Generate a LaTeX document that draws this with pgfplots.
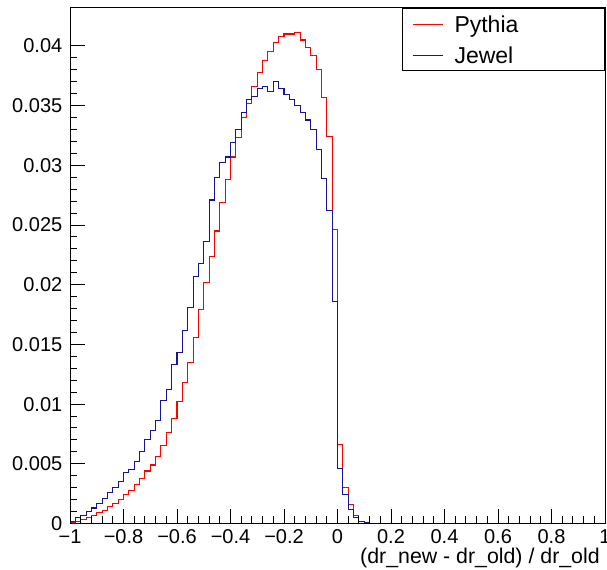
\documentclass[border=0pt]{standalone}
\usepackage{fontspec}
\setmainfont{Liberation Sans}
\usepackage{pgfplots}
\pgfplotsset{compat=1.18}
\usetikzlibrary{calc}
\definecolor{pythiared}{RGB}{255,0,0}
\definecolor{jewelblue}{RGB}{20,20,160}
\begin{document}
\begin{tikzpicture}
\begin{axis}[
  scale only axis,
  width=401.25pt, height=386.625pt,
  xmin=-1, xmax=1, ymin=0, ymax=0.04318,
  axis on top,
  tick pos=left, tick align=inside,
  xtick={-1,-0.8,-0.6,-0.4,-0.2,0,0.2,0.4,0.6,0.8,1},
  xticklabels={−1,−0.8,−0.6,−0.4,−0.2,0,0.2,0.4,0.6,0.8,1},
  ytick={0,0.005,0.01,0.015,0.02,0.025,0.03,0.035,0.04},
  yticklabels={0,0.005,0.01,0.015,0.02,0.025,0.03,0.035,0.04},
  minor x tick num=4, minor y tick num=4,
  major tick length=11.25pt, minor tick length=5.6pt,
  every tick/.style={black, line width=0.75pt},
  axis line style={line width=0.75pt},
  tick label style={font=\fontsize{15}{18}\selectfont},
  xticklabel style={anchor=north, inner sep=0pt, yshift=-4.5pt},
  yticklabel style={anchor=east, inner sep=0pt, xshift=-5.6pt},
  xlabel={(dr\_new - dr\_old) / dr\_old},
  xlabel style={at={(rel axis cs:1,0)}, anchor=north east, inner sep=0pt, xshift=-3.75pt, yshift=-18.5pt, font=\fontsize{16}{19}\selectfont},
  legend cell align=left,
  legend image code/.code={},
  legend style={at={(rel axis cs:1,1)}, anchor=north east, draw=black, line width=0.75pt, fill=white,
    inner xsep=7.5pt, inner ysep=0pt, column sep=0pt, row sep=0pt,
    font=\fontsize{17.25}{20}\selectfont,
    nodes={inner sep=0pt, text height=18pt, text depth=5.25pt}},
]
\addplot[const plot mark left, pythiared, line width=0.8pt, no marks] coordinates {
(-1.00,0.0001) (-0.98,0.0002) (-0.96,0.0003) (-0.94,0.0005) (-0.92,0.0007)
(-0.90,0.0009) (-0.88,0.0011) (-0.86,0.0014) (-0.84,0.0017) (-0.82,0.0020)
(-0.80,0.0024) (-0.78,0.0028) (-0.76,0.0033) (-0.74,0.0038) (-0.72,0.0044)
(-0.70,0.0049) (-0.68,0.0056) (-0.66,0.0065) (-0.64,0.0076) (-0.62,0.0088)
(-0.60,0.0102) (-0.58,0.0118) (-0.56,0.0135) (-0.54,0.0156) (-0.52,0.0179)
(-0.50,0.0202) (-0.48,0.0224) (-0.46,0.0245) (-0.44,0.0269) (-0.42,0.0288)
(-0.40,0.0307) (-0.38,0.0323) (-0.36,0.0340) (-0.34,0.0352) (-0.32,0.0366)
(-0.30,0.0378) (-0.28,0.0388) (-0.26,0.0395) (-0.24,0.0403) (-0.22,0.0408)
(-0.20,0.0410) (-0.18,0.0410) (-0.16,0.0411) (-0.14,0.0405) (-0.12,0.0399)
(-0.10,0.0392) (-0.08,0.0380) (-0.06,0.0357) (-0.04,0.0324) (-0.02,0.0246)
(0.00,0.0066) (0.02,0.0030) (0.04,0.0016) (0.06,0.0007) (0.08,0.0002)
(0.10,0.0001) (0.12,0.0) (1.00,0.0)
};
\addlegendentry{\textcolor{pythiared}{\rule[5.8pt]{22.5pt}{0.8pt}}\hspace{9pt}\makebox[105pt][l]{Pythia}}
\addplot[const plot mark left, jewelblue, line width=0.8pt, no marks] coordinates {
(-1.00,0.0002) (-0.98,0.0005) (-0.96,0.0007) (-0.94,0.0010) (-0.92,0.0013)
(-0.90,0.0017) (-0.88,0.0021) (-0.86,0.0026) (-0.84,0.0030) (-0.82,0.0035)
(-0.80,0.0043) (-0.78,0.0045) (-0.76,0.0052) (-0.74,0.0060) (-0.72,0.0070)
(-0.70,0.0078) (-0.68,0.0086) (-0.66,0.0103) (-0.64,0.0112) (-0.62,0.0133)
(-0.60,0.0143) (-0.58,0.0162) (-0.56,0.0181) (-0.54,0.0207) (-0.52,0.0218)
(-0.50,0.0236) (-0.48,0.0271) (-0.46,0.0290) (-0.44,0.0302) (-0.42,0.0307)
(-0.40,0.0319) (-0.38,0.0330) (-0.36,0.0344) (-0.34,0.0355) (-0.32,0.0358)
(-0.30,0.0364) (-0.28,0.0366) (-0.26,0.0362) (-0.24,0.0370) (-0.22,0.0364)
(-0.20,0.0359) (-0.18,0.0355) (-0.16,0.0350) (-0.14,0.0344) (-0.12,0.0338)
(-0.10,0.0330) (-0.08,0.0313) (-0.06,0.0289) (-0.04,0.0262) (-0.02,0.0186)
(0.00,0.0046) (0.02,0.0024) (0.04,0.0012) (0.06,0.0005) (0.08,0.0002)
(0.10,0.00005) (0.12,0.0) (1.00,0.0)
};
\addlegendentry{\textcolor{jewelblue}{\rule[5.8pt]{22.5pt}{0.8pt}}\hspace{9pt}\makebox[105pt][l]{Jewel}}
\coordinate (ll) at (rel axis cs:0,0);
\coordinate (ur) at (rel axis cs:1,1);
\end{axis}
\pgfresetboundingbox
\path[use as bounding box] ($(ll)+(-52.5pt,-34.125pt)$) rectangle ($(ur)+(1.5pt,6pt)$);
\end{tikzpicture}
\end{document}
